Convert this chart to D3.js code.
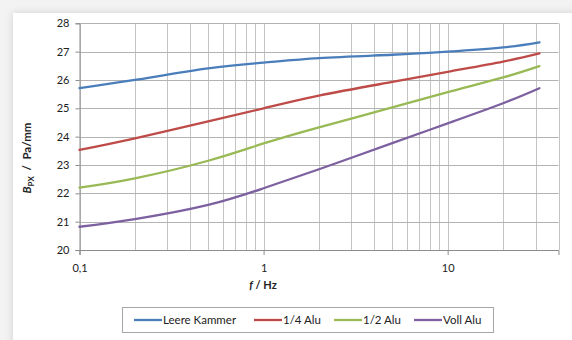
<!DOCTYPE html>
<html>
<head>
<meta charset="utf-8">
<script src="https://cdn.jsdelivr.net/npm/d3@7"></script>
<style>
  html, body { margin: 0; padding: 0; background: #f3f3f3; }
  svg { display: block; }
  text { font-family: Lato, "Open Sans", "Liberation Sans", sans-serif; fill: #222; }
</style>
</head>
<body>
<svg id="chart" width="572" height="340"></svg>
<script>
// ---- data ----
const frequencies = [0.1, 0.2, 0.5, 1, 2, 5, 10, 20, 31.5];
const seriesNames = ["Leere Kammer", "1/4 Alu", "1/2 Alu", "Voll Alu"];
const leereKammer = [25.71, 26.00, 26.41, 26.61, 26.77, 26.89, 27.00, 27.15, 27.33];
const viertelAlu  = [23.53, 23.94, 24.54, 25.00, 25.45, 25.93, 26.29, 26.65, 26.94];
const halbAlu     = [22.20, 22.53, 23.15, 23.76, 24.33, 25.03, 25.57, 26.09, 26.49];
const vollAlu     = [20.82, 21.09, 21.59, 22.18, 22.85, 23.77, 24.47, 25.18, 25.71];
const xTickValues = [0.1, 1, 10];
const yTickValues = [20, 21, 22, 23, 24, 25, 26, 27, 28];
const seriesColors = ["#4a7ebb", "#be4b48", "#98b954", "#7d60a0"];

const allSeries = [leereKammer, viertelAlu, halbAlu, vollAlu];

const svg = d3.select("#chart");

// container with soft shadow
const defs = svg.append("defs");
const f = defs.append("filter").attr("id", "sh").attr("x", "-5%").attr("y", "-5%").attr("width", "110%").attr("height", "110%");
f.append("feGaussianBlur").attr("in", "SourceAlpha").attr("stdDeviation", 4);
f.append("feOffset").attr("dx", 0).attr("dy", 0).attr("result", "b");
f.append("feComponentTransfer").append("feFuncA").attr("type", "linear").attr("slope", 0.15);
const fm = f.append("feMerge");
fm.append("feMergeNode");
fm.append("feMergeNode").attr("in", "SourceGraphic");

svg.append("rect").attr("x", 13).attr("y", 13).attr("width", 600).attr("height", 360)
  .attr("fill", "#fff").attr("filter", "url(#sh)");

const x = d3.scaleLog().domain([0.1, 40]).range([79.5, 558.5]);
const y = d3.scaleLinear().domain([20, 28]).range([250, 23.3]);

// vertical gridlines (log ticks)
svg.append("g").selectAll("line").data(x.ticks()).join("line")
  .attr("x1", d => Math.round(x(d)) + 0.5).attr("x2", d => Math.round(x(d)) + 0.5)
  .attr("y1", y(28)).attr("y2", y(20))
  .attr("stroke", "#c4c4c4").attr("stroke-width", 1);

// horizontal gridlines
svg.append("g").selectAll("line").data(yTickValues.filter(v => v > 20)).join("line")
  .attr("x1", x(0.1)).attr("x2", x(40))
  .attr("y1", d => Math.round(y(d)) + 0.5).attr("y2", d => Math.round(y(d)) + 0.5)
  .attr("stroke", "#b3b3b3").attr("stroke-width", 1);

// y axis
const yAxis = svg.append("g").attr("transform", `translate(${x(0.1)},0)`)
  .call(d3.axisLeft(y).tickValues(yTickValues).tickSize(4).tickPadding(6).tickFormat(d3.format("d")));
yAxis.selectAll("path,line").attr("stroke", "#8c8c8c");
yAxis.selectAll("text").attr("font-size", 11).attr("font-family", "Lato, 'Open Sans', sans-serif").attr("fill", "#222");

// x axis
const xAxis = svg.append("g").attr("transform", `translate(0,${y(20)})`)
  .call(d3.axisBottom(x).tickValues(xTickValues).tickSize(5).tickPadding(9)
    .tickFormat(d => String(d).replace(".", ",")));
xAxis.selectAll("path,line").attr("stroke", "#8c8c8c");
xAxis.selectAll("text").attr("font-size", 11).attr("font-family", "Lato, 'Open Sans', sans-serif").attr("fill", "#222");

// lines
const line = d3.line()
  .x((d, i) => x(frequencies[i]))
  .y(d => y(d))
  .curve(d3.curveNatural);

svg.append("g").selectAll("path").data(allSeries).join("path")
  .attr("d", d => line(d))
  .attr("fill", "none")
  .attr("stroke", (d, i) => seriesColors[i])
  .attr("stroke-width", 2.3)
  .attr("stroke-linecap", "round");

// axis titles
const xt = svg.append("text").attr("x", 263).attr("y", 289).attr("text-anchor", "middle")
  .attr("font-size", 11).attr("font-weight", "bold");
xt.append("tspan").attr("font-style", "italic").text("f");
xt.append("tspan").text("  / Hz");

const yt = svg.append("text").attr("transform", "translate(31,158) rotate(-90)")
  .attr("text-anchor", "middle").attr("font-size", 11.5).attr("font-weight", "bold");
yt.append("tspan").attr("font-style", "italic").text("B");
yt.append("tspan").attr("font-size", 8).attr("dy", 3).text("PX");
yt.append("tspan").attr("dy", -3).attr("xml:space", "preserve").text("  /  Pa/mm");

// legend
svg.append("rect").attr("x", 122.5).attr("y", 307.5).attr("width", 371).attr("height", 25)
  .attr("fill", "#fff").attr("stroke", "#a6a6a6").attr("stroke-width", 1);
const legX = [134, 254, 334, 414];
const lg = svg.append("g").selectAll("g").data(seriesNames).join("g")
  .attr("transform", (d, i) => `translate(${legX[i]},320)`);
lg.append("line").attr("x1", 0).attr("x2", 28).attr("y1", 0).attr("y2", 0)
  .attr("stroke", (d, i) => seriesColors[i]).attr("stroke-width", 2.3);
lg.append("text").attr("x", 29).attr("y", 4).attr("font-size", 11.5).text(d => d);
</script>
</body>
</html>
